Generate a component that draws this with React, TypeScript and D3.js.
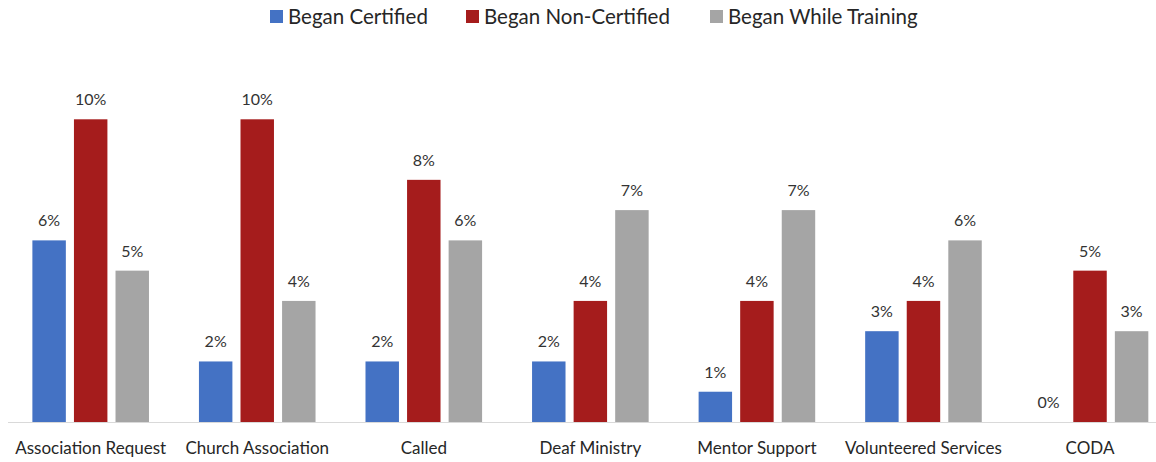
import { useEffect, useRef } from 'react'
import * as d3 from 'd3'

const categories = ['Association Request', 'Church Association', 'Called', 'Deaf Ministry', 'Mentor Support', 'Volunteered Services', 'CODA']
const seriesNames = ['Began Certified', 'Began Non-Certified', 'Began While Training']
const beganCertified = [6, 2, 2, 2, 1, 3, 0]
const beganNonCertified = [10, 10, 8, 4, 4, 4, 5]
const beganWhileTraining = [5, 4, 6, 7, 7, 6, 3]
const colors = ['#4472C4', '#A51C1C', '#A5A5A5']

const FONT = 'Lato, "Open Sans", sans-serif'

export default function App() {
  const svgRef = useRef<SVGSVGElement>(null)

  useEffect(() => {
    const W = 1156
    const H = 462
    const baseline = 422
    const svg = d3.select(svgRef.current)
    svg.selectAll('*').remove()
    svg.attr('width', W).attr('height', H)

    const values = [beganCertified, beganNonCertified, beganWhileTraining]
    const data = categories.map((c, i) => ({
      cat: c,
      vals: seriesNames.map((s, j) => ({ s, j, v: values[j][i] }))
    }))

    const x0 = d3.scaleBand().domain(categories).range([7.4, 1173.3]).padding(0)
    const x1 = d3.scaleBand().domain(seriesNames)
      .range([x0.bandwidth() * 0.15, x0.bandwidth() * 0.85]).paddingInner(0.195)
    const y = d3.scaleLinear().domain([0, 10]).range([baseline, baseline - 302.7])

    // axis line
    svg.append('line')
      .attr('x1', 8).attr('x2', W)
      .attr('y1', baseline + 0.5).attr('y2', baseline + 0.5)
      .attr('stroke', '#d9d9d9').attr('stroke-width', 1)

    const g = svg.selectAll('.grp')
      .data(data)
      .join('g')
      .attr('class', 'grp')
      .attr('transform', d => `translate(${x0(d.cat)},0)`)

    g.selectAll('rect')
      .data(d => d.vals)
      .join('rect')
      .attr('x', d => x1(d.s)!)
      .attr('width', x1.bandwidth())
      .attr('y', d => y(d.v))
      .attr('height', d => baseline - y(d.v))
      .attr('fill', d => colors[d.j])

    g.selectAll('.val')
      .data(d => d.vals)
      .join('text')
      .attr('class', 'val')
      .attr('x', d => x1(d.s)! + x1.bandwidth() / 2)
      .attr('y', d => y(d.v) - 14)
      .attr('text-anchor', 'middle')
      .attr('fill', '#333')
      .attr('font-family', FONT)
      .attr('font-size', '16px')
      .text(d => d.v + '%')

    svg.selectAll('.cat')
      .data(categories)
      .join('text')
      .attr('class', 'cat')
      .attr('x', d => x0(d)! + x0.bandwidth() / 2)
      .attr('y', 454)
      .attr('text-anchor', 'middle')
      .attr('fill', '#262626')
      .attr('font-family', FONT)
      .attr('font-size', '17px')
      .text(d => d)

    // legend
    const legendX = [270, 466, 710]
    const lg = svg.selectAll('.leg')
      .data(seriesNames)
      .join('g')
      .attr('class', 'leg')
      .attr('transform', (d, i) => `translate(${legendX[i]},0)`)
    lg.append('rect')
      .attr('x', 0).attr('y', 10).attr('width', 13).attr('height', 13)
      .attr('fill', (d, i) => colors[i])
    lg.append('text')
      .attr('x', 18).attr('y', 24)
      .attr('fill', '#262626')
      .attr('font-family', FONT)
      .attr('font-size', '20.5px')
      .text(d => d)
  }, [])

  return (
    <div style={{ position: 'absolute', left: 0, top: 0 }}>
      <svg ref={svgRef} style={{ display: 'block' }} />
    </div>
  )
}
